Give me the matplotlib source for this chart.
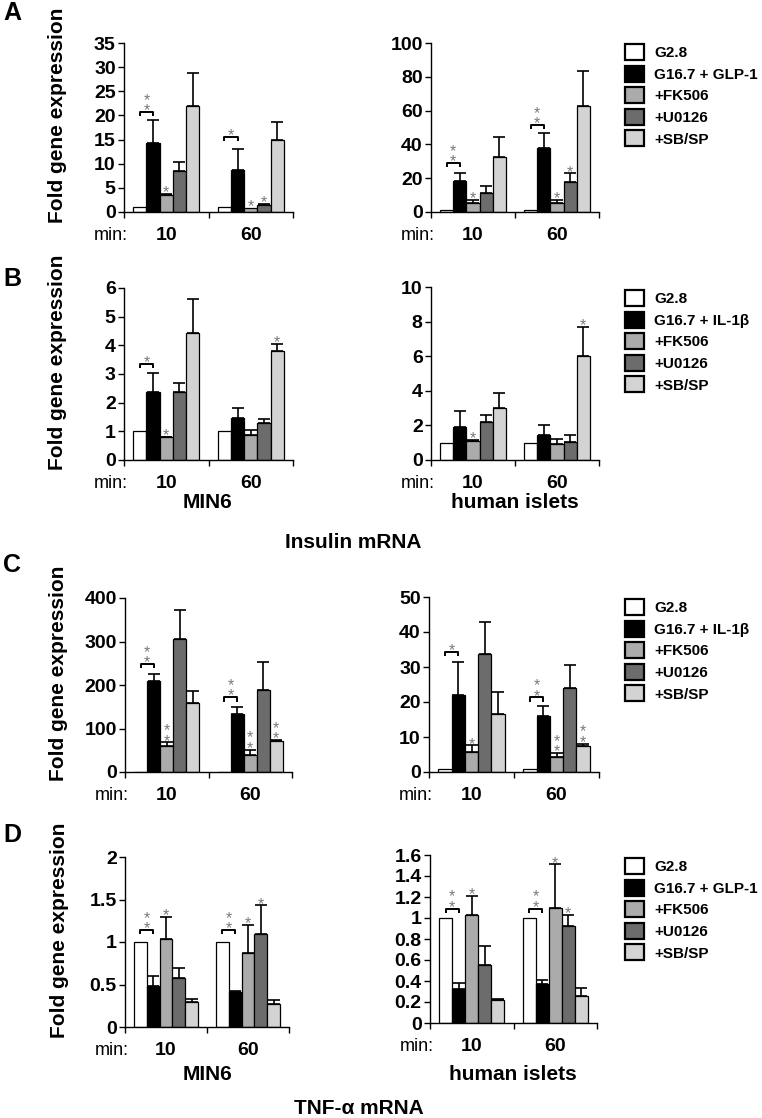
import numpy as np
import matplotlib.pyplot as plt
from matplotlib.patches import Patch

plt.rcParams['font.family'] = ['Liberation Sans', 'DejaVu Sans']

W, H = 762, 1118

groups = ['10', '60']
labels_glp = ['G2.8', 'G16.7 + GLP-1', '+FK506', '+U0126', '+SB/SP']
labels_il = ['G2.8', 'G16.7 + IL-1β', '+FK506', '+U0126', '+SB/SP']
colors = ['white', 'black', '#ababab', '#6c6c6c', '#d3d3d3']

# A: insulin mRNA, GLP-1
a_min6_mean = [[1, 14.3, 3.5, 8.4, 22.0], [1, 8.6, 0.8, 1.4, 15.0]]
a_min6_err = [[0, 4.7, 0.3, 1.9, 6.8], [0, 4.4, 0, 0.2, 3.7]]
a_min6_stars = [['', '**', '*', '', ''], ['', '*', '*', '*', '']]
a_min6_bracket = [20.7, 15.5]

a_hum_mean = [[1, 18.2, 5.1, 11.3, 32.3], [1, 37.8, 5.5, 17.8, 62.5]]
a_hum_err = [[0, 4.7, 1.9, 4.0, 12.3], [0, 8.8, 1.8, 5.0, 20.8]]
a_hum_stars = [['', '**', '*', '', ''], ['', '**', '*', '*', '']]
a_hum_bracket = [29, 51.5]

# B: insulin mRNA, IL-1b
b_min6_mean = [[1, 2.38, 0.79, 2.37, 4.42], [1, 1.45, 0.87, 1.3, 3.79]]
b_min6_err = [[0, 0.67, 0.02, 0.31, 1.18], [0, 0.37, 0.19, 0.12, 0.26]]
b_min6_stars = [['', '*', '*', '', ''], ['', '', '', '', '*']]
b_min6_bracket = [3.35, None]

b_hum_mean = [[1, 1.92, 1.1, 2.2, 2.98], [1, 1.47, 0.92, 1.02, 6.0]]
b_hum_err = [[0, 0.93, 0.05, 0.38, 0.9], [0, 0.55, 0.3, 0.44, 1.7]]
b_hum_stars = [['', '', '*', '', ''], ['', '', '', '', '*']]
b_hum_bracket = [None, None]

# C: TNF-a mRNA, IL-1b
c_min6_mean = [[1, 209, 60, 305, 159], [1, 133, 38, 189, 71]]
c_min6_err = [[0, 16, 8, 67, 28], [0, 17, 13, 63, 2]]
c_min6_stars = [['', '**', '**', '', ''], ['', '**', '**', '', '**']]
c_min6_bracket = [248, 172]

c_hum_mean = [[1, 22, 5.8, 33.8, 16.5], [1, 16, 4.3, 24.1, 7.3]]
c_hum_err = [[0, 9.3, 1.8, 9.2, 6.3], [0, 2.9, 1.1, 6.5, 0.8]]
c_hum_stars = [['', '*', '*', '', ''], ['', '**', '**', '', '**']]
c_hum_bracket = [34.4, 21.3]

# D: TNF-a mRNA, GLP-1
d_min6_mean = [[1, 0.48, 1.04, 0.58, 0.29], [1, 0.41, 0.87, 1.1, 0.27]]
d_min6_err = [[0, 0.12, 0.25, 0.11, 0.04], [0, 0.01, 0.33, 0.33, 0.05]]
d_min6_stars = [['', '**', '*', '', ''], ['', '**', '*', '*', '']]
d_min6_bracket = [1.14, 1.14]

d_hum_mean = [[1, 0.32, 1.03, 0.55, 0.22], [1, 0.37, 1.1, 0.92, 0.26]]
d_hum_err = [[0, 0.06, 0.18, 0.18, 0.01], [0, 0.04, 0.41, 0.11, 0.07]]
d_hum_stars = [['', '**', '*', '', ''], ['', '**', '*', '*', '']]
d_hum_bracket = [1.09, 1.09]

fig = plt.figure(figsize=(W / 100, H / 100), dpi=100)


def px_axes(l, r, top, bot):
    return fig.add_axes([l / W, 1 - bot / H, (r - l) / W, (bot - top) / H])


def draw_panel(ax, mean, err, stars, bracket, ymax, step, ylabel=True):
    bw = 0.156
    offs = (np.arange(5) - 2) * bw
    mean = np.array(mean, dtype=float)
    err = np.array(err, dtype=float)
    for i in range(5):
        x = np.arange(2) + offs[i]
        ax.bar(x, mean[:, i], bw, color=colors[i], edgecolor='black', linewidth=0.9, zorder=2)
        m = err[:, i] > 0
        if m.any():
            ax.errorbar(x[m], mean[m, i], yerr=[np.zeros(m.sum()), err[m, i]], fmt='none',
                        ecolor='black', elinewidth=1.2, capsize=4.5, capthick=1.2, zorder=3)
    tick = ymax * 0.025
    for g in range(2):
        for i in range(5):
            s = stars[g][i]
            if not s:
                continue
            if i == 1:
                x0, x1 = g + offs[0], g + offs[1]
                y = bracket[g]
                ax.plot([x0, x0, x1, x1], [y - tick, y, y, y - tick], color='black', lw=1.4,
                        solid_capstyle='butt', zorder=4)
                xs, ys = (x0 + x1) / 2, y
            else:
                xs, ys = g + offs[i], mean[g, i] + err[g, i]
            ax.annotate('\n'.join('*' * len(s)), (xs, ys), xytext=(0, -4.5),
                        textcoords='offset points', ha='center', va='bottom',
                        linespacing=0.62, fontsize=11.5, color='#7a7a7a', zorder=5)
    ax.set_xlim(-0.5, 1.5)
    ax.set_ylim(0, ymax)
    ax.set_yticks(np.arange(0, ymax + step / 2, step))
    ax.yaxis.set_major_formatter(plt.FormatStrFormatter('%g'))
    ax.set_xticks([-0.5, 0.5, 1.5])
    ax.set_xticklabels([])
    ax.tick_params(axis='both', direction='out', length=4, width=1, color='black',
                   labelsize=14, pad=2)
    for t in ax.get_yticklabels():
        t.set_fontweight('bold')
    for sp in ['top', 'right']:
        ax.spines[sp].set_visible(False)
    for sp in ['left', 'bottom']:
        ax.spines[sp].set_linewidth(1)
    for g in range(2):
        ax.annotate(groups[g], (g, 0), xycoords=('data', 'axes fraction'), xytext=(0, -11),
                    textcoords='offset points', ha='center', va='top', fontsize=14,
                    fontweight='bold')
    ax.annotate('min:', (0, 0), xycoords='axes fraction', xytext=(3, -11),
                textcoords='offset points', ha='right', va='top', fontsize=13)
    if ylabel:
        ax.set_ylabel('Fold gene expression', fontsize=15, fontweight='bold')
        ax.yaxis.set_label_coords(-0.34, 0.57)


def add_legend(ax, labels, top_px):
    handles = [Patch(facecolor=c, edgecolor='black', linewidth=1.6) for c in colors]
    ax.legend(handles, labels, loc='upper left', bbox_to_anchor=(625 / W, 1 - top_px / H),
              bbox_transform=fig.transFigure, frameon=False, borderpad=0, borderaxespad=0,
              handlelength=1.23, handleheight=1.23, handletextpad=0.7, labelspacing=0.36,
              prop={'weight': 'bold', 'size': 11})


panels = [
    ((124, 293, 43, 212), a_min6_mean, a_min6_err, a_min6_stars, a_min6_bracket, 35, 5),
    ((431, 599, 43, 212), a_hum_mean, a_hum_err, a_hum_stars, a_hum_bracket, 100, 20),
    ((124, 293, 288, 460), b_min6_mean, b_min6_err, b_min6_stars, b_min6_bracket, 6, 1),
    ((431, 599, 287, 460), b_hum_mean, b_hum_err, b_hum_stars, b_hum_bracket, 10, 2),
    ((125, 292, 598, 772), c_min6_mean, c_min6_err, c_min6_stars, c_min6_bracket, 400, 100),
    ((429, 599, 597, 772), c_hum_mean, c_hum_err, c_hum_stars, c_hum_bracket, 50, 10),
    ((125, 289, 857, 1027), d_min6_mean, d_min6_err, d_min6_stars, d_min6_bracket, 2, 0.5),
    ((430, 597, 855, 1023), d_hum_mean, d_hum_err, d_hum_stars, d_hum_bracket, 1.6, 0.2),
]

axes = []
for k, (pos, mean, err, stars, br, ymax, step) in enumerate(panels):
    ax = px_axes(*pos)
    draw_panel(ax, mean, err, stars, br, ymax, step, ylabel=(k % 2 == 0))
    axes.append(ax)

add_legend(axes[1], labels_glp, 44)
add_legend(axes[3], labels_il, 290)
add_legend(axes[5], labels_il, 599)
add_legend(axes[7], labels_glp, 858)


def ftext(x, y, s, **kw):
    fig.text(x / W, 1 - y / H, s, ha='center', va='center', fontweight='bold', **kw)


for letter, y in zip('ABCD', [13, 279, 565, 835]):
    ftext(12, y, letter, fontsize=18)

ftext(208, 503, 'MIN6', fontsize=15)
ftext(515, 503, 'human islets', fontsize=15)
ftext(353, 542, 'Insulin mRNA', fontsize=15)
ftext(208, 1075, 'MIN6', fontsize=15)
ftext(513, 1075, 'human islets', fontsize=15)
ftext(359, 1108, 'TNF-α mRNA', fontsize=15)

fig.savefig('out.png', dpi=100)
